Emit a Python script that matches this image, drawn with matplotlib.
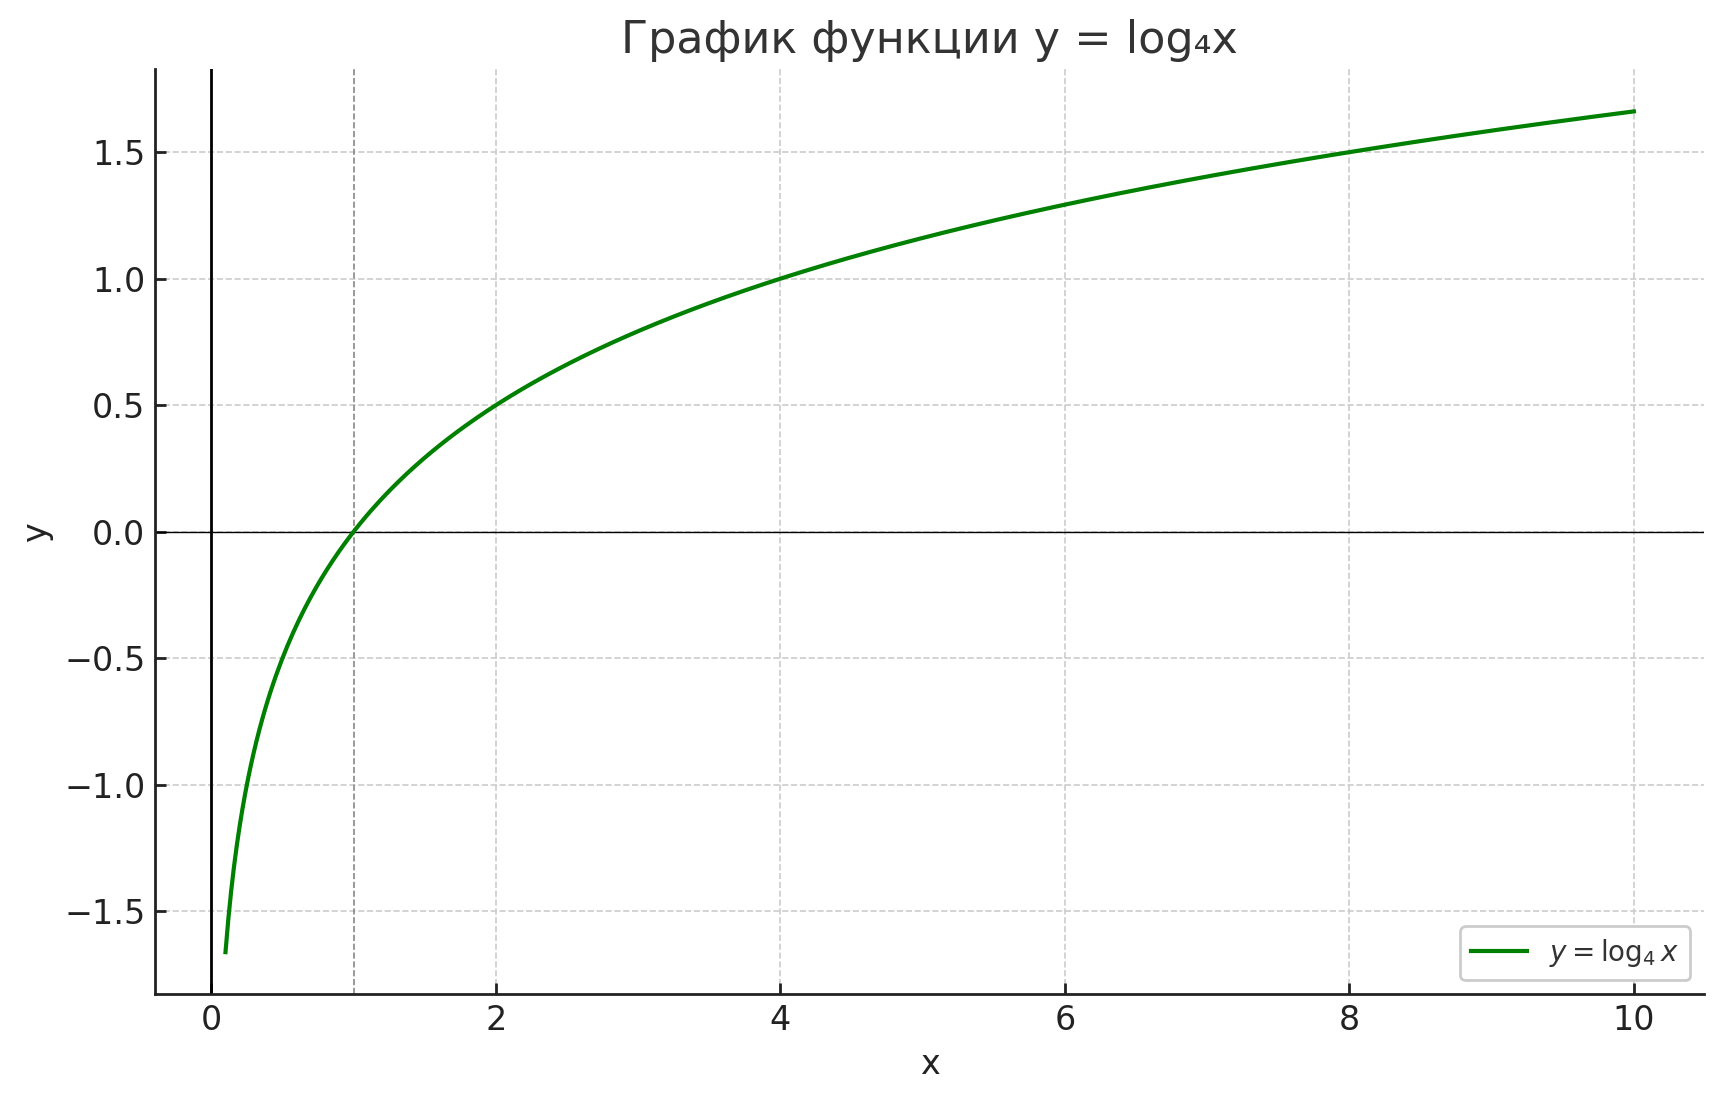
import numpy as np
import matplotlib
matplotlib.use('Agg')
import matplotlib.pyplot as plt

matplotlib.rcParams['font.family'] = 'DejaVu Sans'
matplotlib.rcParams['mathtext.fontset'] = 'dejavusans'

# function y = log_4(x) on the plotted interval
BASE = 4
X_START, X_END, N_POINTS = 0.1, 10, 500
x = np.linspace(X_START, X_END, N_POINTS)
y = np.log(x) / np.log(BASE)

TEXT = '#222222'


def main():
    fig = plt.figure(figsize=(8.625, 5.505), dpi=200)
    ax = fig.add_axes([0.0899, 0.097, 0.8981, 0.840])

    ax.plot(x, y, color='green', linewidth=1.5, label=r'$y = \log_4 x$', zorder=3)

    ax.axhline(0, color='black', linewidth=0.5, zorder=2)
    ax.axvline(0, color='black', linewidth=1.0, zorder=2)
    ax.axvline(1, color='#888888', linewidth=0.6, linestyle='--', zorder=2)

    ax.grid(True, color='#cccccc', linestyle='--', linewidth=0.6)
    ax.set_axisbelow(True)

    for side in ('top', 'right'):
        ax.spines[side].set_visible(False)
    for side in ('left', 'bottom'):
        ax.spines[side].set_color(TEXT)
        ax.spines[side].set_linewidth(1.0)

    ax.tick_params(direction='in', labelsize=12, colors=TEXT, length=4, width=1)
    ax.set_xlabel('x', fontsize=12, color=TEXT)
    ax.set_ylabel('y', fontsize=12, color=TEXT)
    ax.set_title('График функции y = log₄x', fontsize=16, color='#333333', pad=6)

    leg = ax.legend(loc='lower right', fontsize=10, frameon=True, edgecolor='#cccccc',
                    framealpha=1.0, fancybox=True)
    for t in leg.get_texts():
        t.set_color('#333333')

    fig.savefig('out.png', dpi=200, facecolor='white')


if __name__ == '__main__':
    main()
